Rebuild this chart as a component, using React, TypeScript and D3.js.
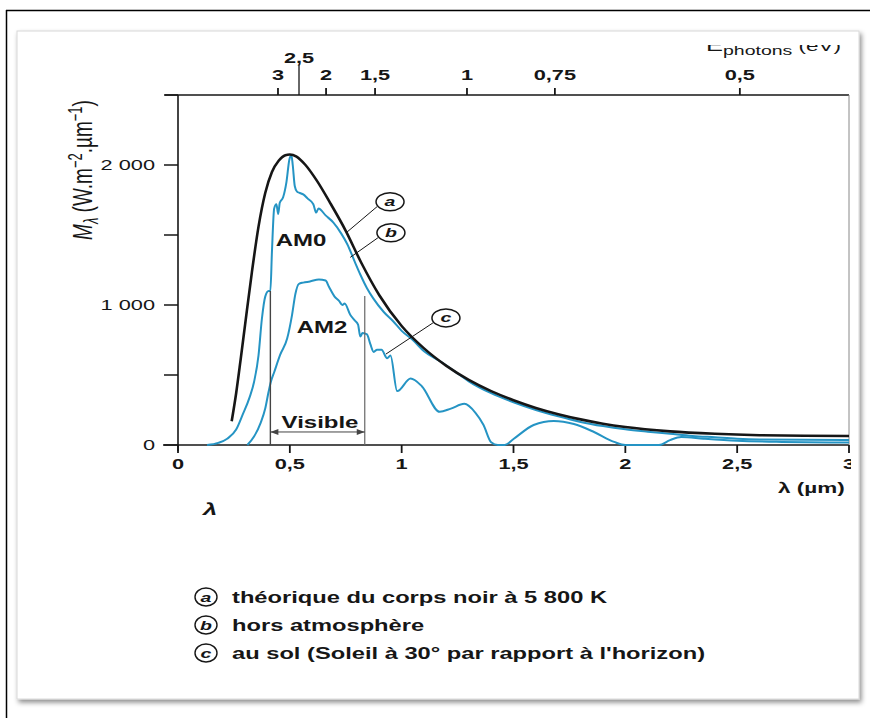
import React, { useEffect, useRef } from "react";
import * as d3 from "d3";

// wavelength (µm) / spectral emittance (W.m-2.µm-1)
const blackLambda = [0.24, 0.26, 0.28, 0.3, 0.33, 0.36, 0.39, 0.42, 0.45, 0.48, 0.5, 0.53, 0.57, 0.62, 0.68, 0.75, 0.82, 0.9, 1.0, 1.1, 1.2, 1.3, 1.4, 1.5, 1.6, 1.7, 1.8, 1.9, 2.0, 2.2, 2.4, 2.6, 2.8, 3.0];
const blackValues = [170, 370, 610, 860, 1230, 1560, 1800, 1950, 2030, 2070, 2075, 2060, 2000, 1890, 1730, 1530, 1300, 1070, 850, 690, 565, 465, 385, 320, 265, 220, 183, 152, 128, 97, 80, 70, 66, 64];

const am0Lambda = [0.13, 0.18, 0.22, 0.26, 0.29, 0.32, 0.34, 0.36, 0.375, 0.39, 0.405, 0.413, 0.42, 0.43, 0.44, 0.448, 0.455, 0.47, 0.485, 0.498, 0.507, 0.513, 0.522, 0.532, 0.545, 0.56, 0.58, 0.605, 0.618, 0.628, 0.66, 0.694, 0.73, 0.757, 0.79, 0.815, 0.845, 0.873, 0.92, 0.963, 1.0, 1.05, 1.1, 1.17, 1.26, 1.3, 1.4, 1.5, 1.6, 1.7, 1.8, 1.9, 2.0, 2.1, 2.2, 2.3, 2.4, 2.5, 2.6, 2.8, 3.0];
const am0Values = [0, 15, 45, 110, 220, 340, 450, 640, 900, 1060, 1100, 1100, 1380, 1690, 1720, 1650, 1730, 1770, 1880, 2040, 2070, 2000, 1850, 1810, 1800, 1790, 1760, 1720, 1660, 1690, 1640, 1590, 1510, 1434, 1310, 1218, 1120, 1047, 950, 882, 815, 750, 670, 600, 500, 455, 370, 305, 250, 205, 165, 135, 112, 95, 80, 65, 55, 45, 40, 38, 36];

const am2Lambda = [0.31, 0.34, 0.37, 0.39, 0.405, 0.415, 0.43, 0.457, 0.488, 0.51, 0.525, 0.54, 0.56, 0.59, 0.63, 0.66, 0.675, 0.7, 0.72, 0.735, 0.745, 0.77, 0.79, 0.805, 0.815, 0.825, 0.845, 0.86, 0.875, 0.89, 0.91, 0.935, 0.95, 0.98, 1.04, 1.09, 1.17, 1.22, 1.28, 1.33, 1.366, 1.4, 1.43, 1.46, 1.5, 1.59, 1.68, 1.77, 1.86, 1.95, 2.0, 2.15, 2.2, 2.25, 2.35, 2.5, 2.7, 3.0];
const am2Values = [0, 60, 160, 260, 380, 450, 520, 645, 760, 930, 1080, 1150, 1160, 1168, 1183, 1175, 1130, 1060, 1030, 1000, 1010, 930, 890, 860, 775, 800, 790, 720, 665, 680, 680, 620, 640, 385, 475, 420, 237, 260, 294, 230, 143, 20, 0, 0, 43, 143, 172, 150, 93, 22, 0, 0, 35, 57, 45, 30, 22, 18];

const xTicks = [0, 0.5, 1, 1.5, 2, 2.5, 3];
const xTickLabels = ["0", "0,5", "1", "1,5", "2", "2,5", "3"];
const yTicks = [0, 500, 1000, 1500, 2000, 2500];
const yTickLabels = ["0", "", "1 000", "", "2 000", ""];

// photon energy axis (eV) and the wavelength each tick sits at
const energyLabels = ["3", "2,5", "2", "1,5", "1", "0,75", "0,5"];
const energyLambda = [0.447, 0.541, 0.662, 0.881, 1.292, 1.685, 2.512];

const legendKeys = ["a", "b", "c"];
const legendTexts = [
  "théorique du corps noir à 5 800 K",
  "hors atmosphère",
  "au sol (Soleil à 30° par rapport à l'horizon)",
];

const W = 870;
const H = 718;
const SX = 1.5; // the scanned figure is stretched sideways
const FONT = "'Liberation Sans', Arial, sans-serif";
const BLUE = "#2594c4";
const INK = "#161616";

const addText = (g, x, y, str, opt: any = {}) =>
  g
    .append("text")
    .attr("transform", `translate(${x},${y}) scale(${SX},1)`)
    .attr("text-anchor", opt.anchor || "start")
    .attr("font-family", FONT)
    .attr("font-size", opt.size || 15)
    .attr("font-weight", opt.weight || "bold")
    .attr("font-style", opt.style || "normal")
    .attr("fill", INK)
    .text(str);

const App = () => {
  const svgRef = useRef(null);

  useEffect(() => {
    const svg = d3.select(svgRef.current);
    svg.selectAll("*").remove();

    const defs = svg.append("defs");
    const shadow = defs.append("filter").attr("id", "shadow").attr("x", -0.05).attr("y", -0.05).attr("width", 1.1).attr("height", 1.1);
    shadow.append("feDropShadow").attr("dx", 2).attr("dy", 3).attr("stdDeviation", 2.5).attr("flood-color", "#000").attr("flood-opacity", 0.45);
    defs.append("clipPath").attr("id", "cardClip").append("rect").attr("x", 20).attr("y", 45).attr("width", 831).attr("height", 650);

    svg.append("rect").attr("width", W).attr("height", H).attr("fill", "#fff");
    // scan frame
    svg.append("line").attr("x1", 6.5).attr("x2", 6.5).attr("y1", 10).attr("y2", H).attr("stroke", "#000").attr("stroke-width", 1.5);
    svg.append("line").attr("x1", 6).attr("x2", W).attr("y1", 10.5).attr("y2", 10.5).attr("stroke", "#000").attr("stroke-width", 1.5);
    svg.append("rect").attr("x", 17).attr("y", 31).attr("width", 842).attr("height", 668).attr("fill", "#fff").attr("stroke", "#d8d8d8").attr("filter", "url(#shadow)");

    const g = svg.append("g").attr("clip-path", "url(#cardClip)");

    const x = d3.scaleLinear().domain([0, 3]).range([178, 849]);
    const y = d3.scaleLinear().domain([0, 2500]).range([445, 95]);

    // axes
    g.append("line").attr("x1", 178).attr("x2", 178).attr("y1", y(2500)).attr("y2", y(0) + 6).attr("stroke", INK).attr("stroke-width", 1.6);
    g.append("line").attr("x1", 163).attr("x2", x(3)).attr("y1", y(0)).attr("y2", y(0)).attr("stroke", INK).attr("stroke-width", 1.6);
    g.append("line").attr("x1", 165).attr("x2", x(3)).attr("y1", y(2500)).attr("y2", y(2500)).attr("stroke", INK).attr("stroke-width", 1.6);
    g.append("line").attr("x1", x(3)).attr("x2", x(3)).attr("y1", y(2500)).attr("y2", y(0)).attr("stroke", "#888").attr("stroke-width", 1);

    yTicks.forEach((t, i) => {
      g.append("line").attr("x1", 164).attr("x2", 178).attr("y1", y(t)).attr("y2", y(t)).attr("stroke", INK).attr("stroke-width", 1.5);
      if (yTickLabels[i]) addText(g, 155, y(t) + 5, yTickLabels[i], { size: 14.5, weight: "normal", anchor: "end" });
    });
    xTicks.forEach((t, i) => {
      g.append("line").attr("x1", x(t)).attr("x2", x(t)).attr("y1", y(0)).attr("y2", y(0) + 8).attr("stroke", INK).attr("stroke-width", 1.8);
      addText(g, x(t), y(0) + 24, xTickLabels[i], { size: 14.5, anchor: "middle" });
    });
    energyLabels.forEach((lab, i) => {
      const px = x(energyLambda[i]);
      const long = lab === "2,5";
      g.append("line").attr("x1", px).attr("x2", px).attr("y1", y(2500)).attr("y2", long ? y(2500) - 30 : y(2500) - 7).attr("stroke", INK).attr("stroke-width", long ? 1.3 : 1.8);
      addText(g, px, long ? 63 : 80, lab, { size: 14.5, anchor: "middle" });
    });

    const eLab = addText(g, 706, 51, "E", { size: 17, weight: "normal" });
    eLab.append("tspan").attr("font-size", 13).attr("dy", 4).text("photons");
    eLab.append("tspan").attr("font-size", 15).attr("dy", -4).text(" (eV)");

    addText(g, 778, 493, "λ (µm)", { size: 15 });
    addText(g, 203, 515, "λ", { size: 17, style: "italic" });

    // y label, rotated
    const yl = g
      .append("text")
      .attr("transform", `translate(92,170) scale(${SX},1) rotate(-90)`)
      .attr("text-anchor", "middle")
      .attr("font-family", FONT)
      .attr("font-size", 19)
      .attr("fill", INK);
    yl.append("tspan").attr("font-style", "italic").text("M");
    yl.append("tspan").attr("font-size", 13).attr("dy", 4).attr("font-style", "italic").text("λ");
    yl.append("tspan").attr("dy", -4).text(" (W.m");
    yl.append("tspan").attr("font-size", 13).attr("dy", -7).text("−2");
    yl.append("tspan").attr("dy", 7).text(".µm");
    yl.append("tspan").attr("font-size", 13).attr("dy", -7).text("−1");
    yl.append("tspan").attr("dy", 7).text(")");

    // curves
    const line = d3
      .line()
      .x((d) => x(d[0]))
      .y((d) => y(d[1]))
      .curve(d3.curveMonotoneX);
    const zip = (a, b) => a.map((v, i) => [v, b[i]]);

    g.append("path").attr("d", line(zip(am2Lambda, am2Values))).attr("fill", "none").attr("stroke", BLUE).attr("stroke-width", 2);
    g.append("path").attr("d", line(zip(am0Lambda, am0Values))).attr("fill", "none").attr("stroke", BLUE).attr("stroke-width", 2);
    g.append("path").attr("d", line(zip(blackLambda, blackValues))).attr("fill", "none").attr("stroke", INK).attr("stroke-width", 2.6);

    // visible band
    const visLo = 0.413;
    const visHi = 0.835;
    g.append("line").attr("x1", x(visLo)).attr("x2", x(visLo)).attr("y1", y(1100)).attr("y2", y(0)).attr("stroke", "#444").attr("stroke-width", 1.4);
    g.append("line").attr("x1", x(visHi)).attr("x2", x(visHi)).attr("y1", y(1065)).attr("y2", y(0)).attr("stroke", "#666").attr("stroke-width", 1.2);
    const ay = y(93);
    g.append("line").attr("x1", x(visLo)).attr("x2", x(visHi)).attr("y1", ay).attr("y2", ay).attr("stroke", "#444").attr("stroke-width", 1);
    g.append("path").attr("d", `M${x(visLo)},${ay}l8,-3v6z M${x(visHi)},${ay}l-8,-3v6z`).attr("fill", "#444");
    addText(g, x(0.635), y(125), "Visible", { size: 16, anchor: "middle" });

    addText(g, x(0.55), y(1425), "AM0", { size: 16, anchor: "middle" });
    addText(g, x(0.644), y(800), "AM2", { size: 16, anchor: "middle" });

    // call-outs a, b, c
    const callouts = [
      { key: "a", cx: 0.948, cy: 1738, tx: 0.755, ty: 1520 },
      { key: "b", cx: 0.952, cy: 1516, tx: 0.77, ty: 1340 },
      { key: "c", cx: 1.198, cy: 908, tx: 0.93, ty: 650 },
    ];
    callouts.forEach((c) => {
      const px = x(c.cx);
      const py = y(c.cy);
      g.append("line").attr("x1", px - 13).attr("y1", py + 5).attr("x2", x(c.tx)).attr("y2", y(c.ty)).attr("stroke", INK).attr("stroke-width", 1);
      g.append("ellipse").attr("cx", px).attr("cy", py).attr("rx", 14).attr("ry", 9).attr("fill", "#fff").attr("stroke", INK).attr("stroke-width", 1.5);
      addText(g, px, py + 4.5, c.key, { size: 13, anchor: "middle", style: "italic" });
    });

    // legend
    legendKeys.forEach((k, i) => {
      const ly = 597 + i * 28;
      g.append("ellipse").attr("cx", 206).attr("cy", ly).attr("rx", 11).attr("ry", 9).attr("fill", "#fff").attr("stroke", INK).attr("stroke-width", 1.4);
      addText(g, 206, ly + 4.5, k, { size: 13, anchor: "middle", style: "italic" });
      addText(g, 232, ly + 5.5, legendTexts[i], { size: 15.8 });
    });
  }, []);

  return <svg ref={svgRef} width={W} height={H} style={{ position: "absolute", left: 0, top: 0 }} />;
};

export default App;
